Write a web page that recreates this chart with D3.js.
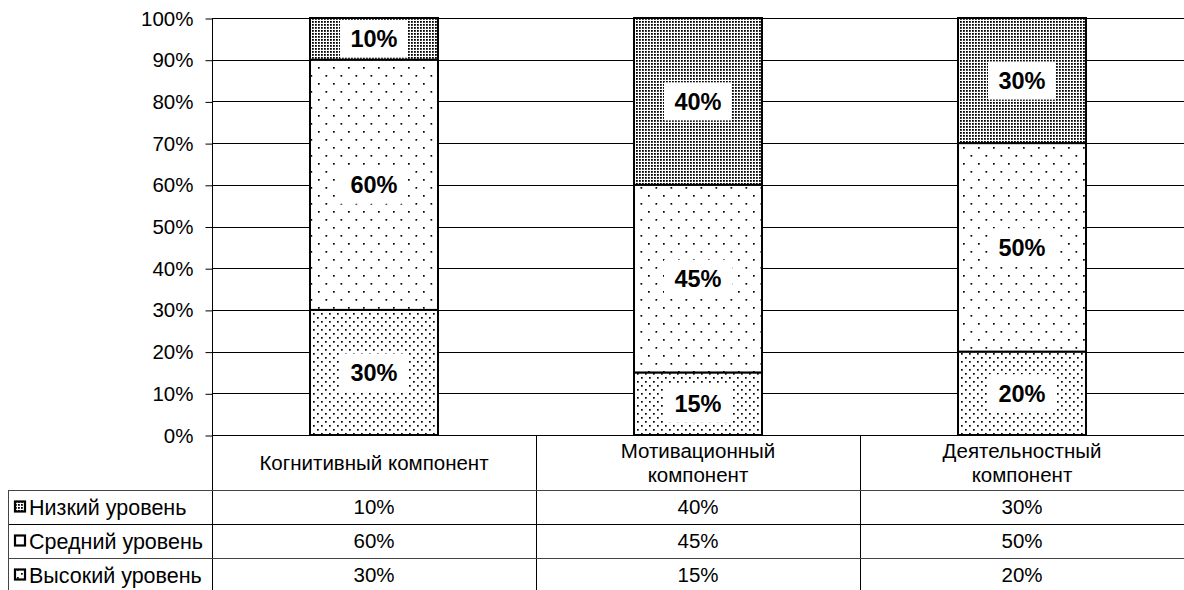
<!DOCTYPE html>
<html><head><meta charset="utf-8">
<script src="https://cdn.jsdelivr.net/npm/d3@7"></script>
<style>
html,body{margin:0;padding:0;background:#fff;}
svg{display:block;font-family:"Liberation Sans",Arial,sans-serif;}
</style></head>
<body><svg id="c" width="1184" height="590"></svg>
<script>
const categories = ["Когнитивный компонент", "Мотивационный компонент", "Деятельностный компонент"];
const categoryLines = [["Когнитивный компонент"], ["Мотивационный", "компонент"], ["Деятельностный", "компонент"]];
const seriesNames = ["Высокий уровень", "Средний уровень", "Низкий уровень"]; // bottom to top
const highValues = [30, 15, 20];
const midValues = [60, 45, 50];
const lowValues = [10, 40, 30];
const yTicks = [0, 10, 20, 30, 40, 50, 60, 70, 80, 90, 100];
const tableOrder = ["Низкий уровень", "Средний уровень", "Высокий уровень"];

const seriesValues = {"Высокий уровень": highValues, "Средний уровень": midValues, "Низкий уровень": lowValues};
const patternId = {"Высокий уровень": "pHigh", "Средний уровень": "pMid", "Низкий уровень": "pLow"};

const svg = d3.select("#c");
const W = 1184;
const mLeft = 212, mRight = 1184, mTop = 18, mBottom = 435;
const FS = 20.5;

const defs = svg.append("defs");
// dense
let p = defs.append("pattern").attr("id","pLow").attr("patternUnits","userSpaceOnUse").attr("width",3).attr("height",3);
p.append("rect").attr("width",3).attr("height",3).attr("fill","#fff");
p.append("rect").attr("x",0).attr("y",0).attr("width",1.8).attr("height",1.8).attr("fill","#000");
// sparse
p = defs.append("pattern").attr("id","pMid").attr("patternUnits","userSpaceOnUse").attr("width",15).attr("height",16);
p.append("rect").attr("width",15).attr("height",16).attr("fill","#fff");
p.append("rect").attr("x",3).attr("y",3).attr("width",1.7).attr("height",1.7).attr("fill","#000");
p.append("rect").attr("x",10.5).attr("y",11).attr("width",1.7).attr("height",1.7).attr("fill","#000");
// medium
p = defs.append("pattern").attr("id","pHigh").attr("patternUnits","userSpaceOnUse").attr("width",8).attr("height",8);
p.append("rect").attr("width",8).attr("height",8).attr("fill","#fff");
p.append("rect").attr("x",1).attr("y",1).attr("width",1.7).attr("height",1.7).attr("fill","#000");
p.append("rect").attr("x",5).attr("y",5).attr("width",1.7).attr("height",1.7).attr("fill","#000");

const x = d3.scaleBand().domain(categories).range([mLeft, mRight]).paddingInner(0).paddingOuter(0);
const y = d3.scaleLinear().domain([0, 100]).range([mBottom, mTop]);
const barW = x.bandwidth() * 0.395;

// gridlines
svg.append("g").selectAll("line").data(yTicks).join("line")
  .attr("x1", mLeft).attr("x2", mRight)
  .attr("y1", d => Math.round(y(d)) + 0.5).attr("y2", d => Math.round(y(d)) + 0.5)
  .attr("stroke", "#000").attr("stroke-width", 1);

// axis
const axis = d3.axisLeft(y).tickValues(yTicks).tickSize(7).tickPadding(12).tickFormat(d => d + "%");
const ag = svg.append("g").attr("transform", `translate(${mLeft + 0.5},0.5)`).call(axis);
ag.selectAll("text").attr("font-size", FS).attr("fill", "#000").attr("font-family", '"Liberation Sans",Arial,sans-serif');
ag.selectAll("line").attr("stroke", "#000");
ag.select(".domain").remove();
svg.append("line").attr("x1", mLeft + 0.5).attr("x2", mLeft + 0.5).attr("y1", mTop).attr("y2", 590).attr("stroke", "#000");

// stacked data
const stackData = categories.map((c, i) => {
  const o = {cat: c};
  seriesNames.forEach(s => o[s] = seriesValues[s][i]);
  return o;
});
const stacked = d3.stack().keys(seriesNames)(stackData);

const bars = svg.append("g");
stacked.forEach(layer => {
  bars.selectAll(null).data(layer).join("rect")
    .attr("x", d => x(d.data.cat) + (x.bandwidth() - barW) / 2)
    .attr("y", d => y(d[1]))
    .attr("width", barW)
    .attr("height", d => y(d[0]) - y(d[1]))
    .attr("fill", `url(#${patternId[layer.key]})`)
    .attr("stroke", "#000").attr("stroke-width", 2);
});
// labels
stacked.forEach(layer => {
  layer.forEach(d => {
    const cx = x(d.data.cat) + x.bandwidth() / 2;
    const cy = (y(d[0]) + y(d[1])) / 2;
    const h = Math.min(38, y(d[0]) - y(d[1]) - 4);
    bars.append("rect").attr("x", cx - 34).attr("y", cy - h / 2).attr("width", 68).attr("height", h).attr("fill", "#fff");
    bars.append("text").attr("x", cx).attr("y", cy).attr("dy", "0.36em").attr("text-anchor", "middle")
      .attr("font-size", 23.5).attr("font-weight", "bold").text((d[1] - d[0]) + "%");
  });
});

// table
const headerBottom = 490, rowH = 34;
const tg = svg.append("g");
categories.forEach((c, i) => {
  if (i > 0) tg.append("line").attr("x1", x(c) + 0.5).attr("x2", x(c) + 0.5).attr("y1", mBottom).attr("y2", 590).attr("stroke", "#000");
});
[0, 1, 2].forEach(r => {
  const yy = headerBottom + r * rowH + 0.5;
  tg.append("line").attr("x1", 8).attr("x2", W).attr("y1", yy).attr("y2", yy).attr("stroke", r === 1 ? "#000" : "#444");
});
tg.append("line").attr("x1", 8.5).attr("x2", 8.5).attr("y1", headerBottom).attr("y2", 590).attr("stroke", "#444");

categories.forEach((c, i) => {
  const lines = categoryLines[i];
  const cx = x(c) + x.bandwidth() / 2;
  const cy = (mBottom + headerBottom) / 2 + 0.5;
  lines.forEach((ln, k) => {
    tg.append("text").attr("x", cx).attr("y", cy + (k - (lines.length - 1) / 2) * 24).attr("dy", "0.36em")
      .attr("text-anchor", "middle").attr("font-size", FS).text(ln);
  });
});
tableOrder.forEach((s, r) => {
  const cy = headerBottom + r * rowH + rowH / 2;
  tg.append("rect").attr("x", 15).attr("y", cy - 5.5).attr("width", 10).attr("height", 10)
    .attr("fill", `url(#${patternId[s]})`).attr("stroke", "#000").attr("stroke-width", 2.2);
  tg.append("text").attr("x", 29).attr("y", cy).attr("dy", "0.36em").attr("font-size", 21.5).text(s);
  seriesValues[s].forEach((v, i) => {
    tg.append("text").attr("x", x(categories[i]) + x.bandwidth() / 2).attr("y", cy).attr("dy", "0.36em")
      .attr("text-anchor", "middle").attr("font-size", FS).text(v + "%");
  });
});
</script></body></html>
